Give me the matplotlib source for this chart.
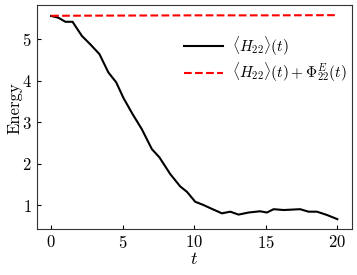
import matplotlib
matplotlib.use("Agg")
import matplotlib.pyplot as plt

plt.rcParams['font.family'] = 'serif'
plt.rcParams['font.serif'] = ['cmr10']
plt.rcParams['mathtext.fontset'] = 'cm'
plt.rcParams['axes.formatter.use_mathtext'] = True

# black curve <H22>(t)
t_vals = [0.0, 0.5, 1.0, 1.5, 2.15, 2.73, 3.38, 4.0, 4.55, 5.06, 5.7,
          6.34, 7.04, 7.57, 8.32, 9.02, 9.49, 10.07, 10.65, 11.35, 11.94,
          12.52, 13.1, 13.8, 14.6, 15.08, 15.55, 16.25, 17.4, 17.99, 18.58,
          19.28, 20.0]
h22 = [5.56, 5.52, 5.42, 5.42, 5.08, 4.88, 4.64, 4.2, 3.96, 3.58, 3.19,
       2.83, 2.35, 2.15, 1.75, 1.45, 1.32, 1.08, 1.0, 0.89, 0.80,
       0.84, 0.77, 0.82, 0.85, 0.82, 0.90, 0.88, 0.90, 0.84, 0.84,
       0.76, 0.66]

# red dashed: <H22>(t) + Phi_22^E(t), nearly constant
t_sum = [0.0, 5.0, 10.0, 15.0, 20.0]
h22_plus_phi = [5.565, 5.57, 5.575, 5.575, 5.58]

fig = plt.figure(figsize=(3.57, 2.75), dpi=100)
ax = fig.add_axes([0.103, 0.166, 0.882, 0.816])

ax.plot(t_vals, h22, color='black', lw=1.5, label=r'$\langle H_{22}\rangle(t)$')
ax.plot(t_sum, h22_plus_phi, color='red', lw=1.5, ls='--',
        label=r'$\langle H_{22}\rangle(t)+\Phi^{E}_{22}(t)$')

ax.set_xticks([0, 5, 10, 15, 20])
ax.set_yticks([1, 2, 3, 4, 5])
ax.tick_params(direction='in', length=3, labelsize=12)
ax.set_xlabel(r'$t$', fontsize=13, labelpad=0)
ax.set_ylabel('Energy', fontsize=12)
ax.yaxis.set_label_coords(-0.045, 0.54)
for s in ax.spines.values():
    s.set_color('#333333')

ax.legend(loc='upper left', bbox_to_anchor=(0.425, 0.93), frameon=False,
          fontsize=11, handlelength=2.5, handletextpad=0.6, labelspacing=0.25)

fig.savefig('out.png', dpi=100)
